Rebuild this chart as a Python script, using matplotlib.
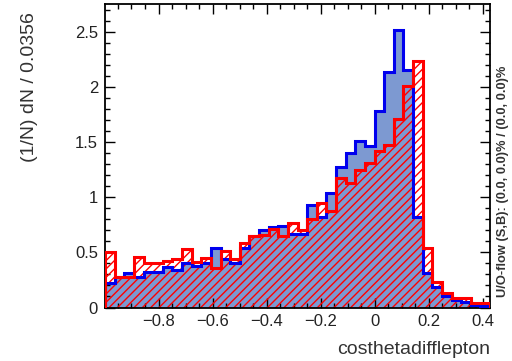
import numpy as np
import matplotlib
matplotlib.use("Agg")
import matplotlib.pyplot as plt
from matplotlib.ticker import MultipleLocator, FuncFormatter

plt.rcParams['font.family'] = ['Liberation Sans', 'DejaVu Sans']
plt.rcParams['hatch.color'] = '#ff0000'
plt.rcParams['hatch.linewidth'] = 1.0

x_min = -0.998
bin_width = 0.0356
n_bins = 40

signal = [0.22, 0.28, 0.31, 0.28, 0.32, 0.32, 0.37, 0.34, 0.40, 0.38,
          0.40, 0.54, 0.44, 0.40, 0.54, 0.65, 0.70, 0.73, 0.74, 0.67,
          0.67, 0.93, 0.82, 1.04, 1.28, 1.40, 1.51, 1.47, 1.79, 2.14,
          2.52, 2.16, 0.82, 0.31, 0.19, 0.10, 0.07, 0.05, 0.02, 0.01]

background = [0.50, 0.28, 0.28, 0.46, 0.40, 0.40, 0.42, 0.44, 0.53, 0.41,
              0.45, 0.36, 0.51, 0.44, 0.59, 0.65, 0.66, 0.71, 0.65, 0.77,
              0.70, 0.80, 0.95, 0.88, 1.18, 1.13, 1.25, 1.31, 1.42, 1.48,
              1.71, 2.01, 2.24, 0.54, 0.23, 0.13, 0.09, 0.09, 0.04, 0.04]

x_ticks = [-0.8, -0.6, -0.4, -0.2, 0.0, 0.2, 0.4]
y_ticks = [0, 0.5, 1, 1.5, 2, 2.5]

edges = x_min + bin_width * np.arange(n_bins + 1)

fig = plt.figure(figsize=(5.12, 3.61), dpi=100)
ax = fig.add_axes([105/512, 1-307.5/361, 385/512, (307.5-4.3)/361])

# signal: filled + outline
ax.stairs(signal, edges, fill=True, facecolor='#7d99d1', edgecolor='none', zorder=1)
ax.stairs(signal, edges, baseline=0, color='#0000ee', linewidth=2.2, zorder=3)
# background: hatched + outline
ax.stairs(background, edges, fill=True, facecolor='none', edgecolor='#ff0000',
          hatch='////', linewidth=0, zorder=2)
ax.stairs(background, edges, baseline=0, color='#ff0000', linewidth=2.2, zorder=4)

ax.set_xlim(edges[0], edges[-1])
ax.set_ylim(0, 2.756)
ax.set_xticks(x_ticks)
ax.set_yticks(y_ticks)
ax.xaxis.set_minor_locator(MultipleLocator(0.05))
ax.yaxis.set_minor_locator(MultipleLocator(0.1))

def fmt(v, pos):
    s = ('%.1f' % v)
    if s.endswith('.0'):
        s = s[:-2]
    if s == '-0':
        s = '0'
    return s.replace('-', '\u2212')

ax.xaxis.set_major_formatter(FuncFormatter(fmt))
ax.yaxis.set_major_formatter(FuncFormatter(fmt))

ax.tick_params(which='both', direction='in', top=True, right=True, width=1.0, color='black')
ax.tick_params(which='major', length=7, labelsize=12, pad=5, labelcolor='#222222')
ax.tick_params(which='minor', length=3.5)
for s in ax.spines.values():
    s.set_linewidth(1.3)

fig.text(30/512, 1-12/361, '(1/N) dN / 0.0356', rotation=90, ha='center', va='top',
         fontsize=14, color='#333333')
fig.text(490/512, 1-350/361, 'costhetadifflepton', ha='right', va='center',
         fontsize=14, color='#333333')
fig.text(503/512, 1-181/361, 'U/O-flow (S,B): (0.0, 0.0)% / (0.0, 0.0)%', rotation=90,
         ha='center', va='center', fontsize=9.3, fontweight='bold', color='#333333')

fig.savefig('out.png', dpi=100)
